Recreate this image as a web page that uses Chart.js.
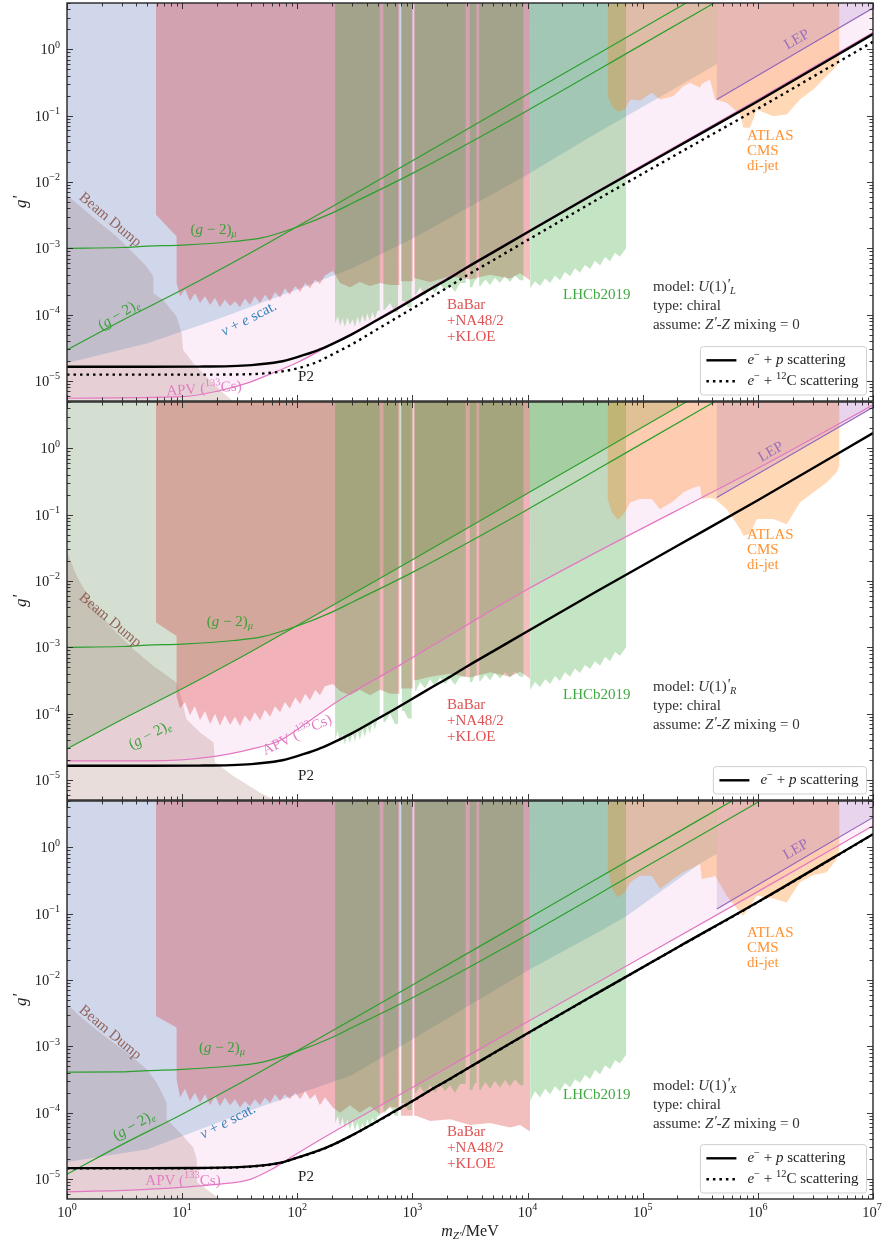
<!DOCTYPE html>
<html>
<head>
<meta charset="utf-8">
<title>Z' coupling limits</title>
<script src="https://cdn.jsdelivr.net/npm/chart.js@4.4.1/dist/chart.umd.min.js"></script>
<style>
  html, body { margin: 0; padding: 0; background: #fff; }
  #page { position: relative; width: 883px; height: 1243px; overflow: hidden; background: #fff; }
  canvas { position: absolute; left: 0; }
</style>
</head>
<body>
<div id="page">
  <canvas id="c1" width="883" height="403" style="top:0px"></canvas>
  <canvas id="c2" width="883" height="403" style="top:400px"></canvas>
  <canvas id="c3" width="883" height="444" style="top:799px"></canvas>
</div>
<script>
// ---- axes ----
const xRange = [1, 1e7];
const yRange = [5e-6, 5];
const xTickExp = [0, 1, 2, 3, 4, 5, 6, 7];
const yTickExp = [-5, -4, -3, -2, -1, 0];

// ---- shared mass grids (MeV) ----
const babarMass = [8.95, 9.6, 10.6, 11.7, 12.9, 14.3, 15.8, 17.5, 19.3, 21.3, 23.5, 26.1, 28.8, 31.8, 35.1, 38.8, 42.8, 47.5, 52.4, 58, 64, 71, 78, 86, 96, 106, 117, 129, 143, 157, 174, 204, 235, 287, 350, 427, 523, 639, 828, 1075, 1422, 2120, 3165, 4718, 7037, 8596, 10500];
const babarGaps = [[770, 795], [1005, 1035]];
const lhcbMass = [213, 225, 235, 247, 259, 272, 287, 302, 317, 333, 350, 368, 387, 406, 427, 449, 473, 497, 578, 639, 705, 850, 915, 1075, 1164, 1287, 1422, 1573, 1738, 1920, 2120, 2340, 2590, 3300, 3493, 3900, 4300, 4718, 5200, 5764, 6370, 7037, 7780, 8596, 1.06e4, 1.16e4, 1.28e4, 1.42e4, 1.57e4, 1.73e4, 1.91e4, 2.11e4, 2.34e4, 2.58e4, 2.85e4, 3.15e4, 3.49e4, 3.85e4, 4.26e4, 4.71e4, 5.2e4, 5.75e4, 6.35e4, 7.16e4];
const lhcbGaps = [[520, 560], [750, 810], [985, 1050], [2900, 3150], [3600, 3800], [9200, 10500]];
const atlasMass = [4.97e4, 5.4e4, 6.1e4, 7.0e4, 7.8e4, 9.5e4, 1.2e5, 1.41e5, 1.84e5, 2.25e5, 2.58e5, 3.15e5, 3.25e5, 3.84e5, 4.25e5, 5.37e5, 7.0e5, 7.5e5, 8.55e5, 9.8e5, 1.36e6, 1.78e6, 2.32e6, 3.03e6, 3.96e6, 4.84e6, 5.1e6];
const p2Mass = [1, 5, 14, 40, 70, 100, 150, 200, 300, 500, 700, 1000, 1500, 2000, 3000, 5000, 1e4, 4e4, 2e5, 1e6, 1e7];
const gm2eMass = [1, 3, 10, 30, 100, 1e3, 1e4, 1e5, 1e6];
const gm2muMass = [1, 3, 5, 10, 28, 50, 100, 200, 300, 1000, 1e4, 1e5, 1e6];

// ---- panel 1: U(1)'_L ----
const apvMass1 = [1, 10, 20, 36, 60, 100, 200, 300, 1000, 1e4, 1e5, 1e6, 1e7];
const apvG1 = [5.5e-6, 5.8e-6, 7.0e-6, 9.2e-6, 1.3e-5, 1.9e-5, 3.6e-5, 5.2e-5, 1.75e-4, 1.8e-3, 1.8e-2, 0.175, 1.8];
const nueMass1 = [1, 5, 20, 100, 300, 1000, 1e4, 4e4, 1.4e5, 4.4e5];
const nueG1 = [1.87e-5, 3.7e-5, 8.5e-5, 2.4e-4, 5e-4, 1.4e-3, 1.3e-2, 5.5e-2, 0.19, 0.6];
const beamDump1 = [[1, 6.4e-3], [1.3, 4.3e-3], [1.93, 2.41e-3], [2.7, 1.51e-3], [3.77, 8.5e-4], [4.93, 5.3e-4], [5.62, 3.76e-4], [5.65, 2.11e-4], [6.86, 1.67e-4], [8.95, 9.4e-5], [9.9, 5.25e-5], [10.2, 2.95e-5], [12.5, 1.85e-5], [16.3, 1.16e-5], [21.3, 7.3e-6], [27.8, 4.9e-6], [40, 2.5e-6]];
const babarStep1 = [[5.93, 3.2e-3], [8.95, 1.51e-3]];
const babarG1 = [3.0e-4, 1.9e-4, 2.4e-4, 1.6e-4, 2.1e-4, 1.5e-4, 1.9e-4, 1.4e-4, 1.8e-4, 1.3e-4, 1.7e-4, 1.35e-4, 1.6e-4, 1.3e-4, 1.75e-4, 1.4e-4, 1.9e-4, 1.5e-4, 2.0e-4, 1.6e-4, 2.2e-4, 1.8e-4, 2.5e-4, 2.0e-4, 2.7e-4, 2.2e-4, 3.0e-4, 2.5e-4, 3.4e-4, 2.9e-4, 3.9e-4, 4.6e-4, 3.0e-4, 2.6e-4, 3.1e-4, 2.7e-4, 3.0e-4, 2.8e-4, 3.2e-4, 3.5e-4, 3.1e-4, 3.8e-4, 3.4e-4, 4.0e-4, 3.5e-4, 4.2e-4, 3.3e-4];
const lhcbG1 = [7.5e-5, 9.5e-5, 6.8e-5, 8.8e-5, 6.5e-5, 9.0e-5, 7.0e-5, 8.5e-5, 6.6e-5, 9.2e-5, 7.2e-5, 1.0e-4, 7.6e-5, 1.05e-4, 8.0e-5, 1.1e-4, 8.6e-5, 1.15e-4, 1.2e-4, 1.5e-4, 1.1e-4, 1.6e-4, 1.3e-4, 2.0e-4, 2.6e-4, 1.9e-4, 2.7e-4, 2.1e-4, 2.9e-4, 2.3e-4, 2.8e-4, 2.2e-4, 3.0e-4, 2.6e-4, 3.3e-4, 2.7e-4, 3.4e-4, 2.8e-4, 3.6e-4, 3.0e-4, 3.8e-4, 3.1e-4, 3.9e-4, 3.3e-4, 2.5e-4, 3.2e-4, 2.7e-4, 3.5e-4, 3.0e-4, 3.9e-4, 3.3e-4, 4.4e-4, 3.8e-4, 5.0e-4, 4.3e-4, 5.6e-4, 4.9e-4, 6.5e-4, 5.5e-4, 7.4e-4, 6.4e-4, 8.6e-4, 7.5e-4, 1.0e-3];
const atlasG1 = [0.197, 0.139, 0.115, 0.124, 0.176, 0.17, 0.222, 0.176, 0.197, 0.279, 0.314, 0.264, 0.3, 0.352, 0.176, 0.157, 0.104, 0.0656, 0.0656, 0.124, 0.098, 0.104, 0.176, 0.249, 0.395, 0.56, 0.706];
const lep1 = [[4.4e5, 0.176], [1e7, 4.2]];
const gm2eG12 = [2.95e-5, 8.2e-5, 2.37e-4, 6.6e-4, 2.14e-3, 2.1e-2, 0.21, 2.1, 21];
const gm2muG12 = [1.0e-3, 1.03e-3, 1.08e-3, 1.12e-3, 1.27e-3, 1.45e-3, 2.1e-3, 3.4e-3, 4.8e-3, 1.35e-2, 0.12, 1.2, 12];
const p2G1 = [1.64e-5, 1.64e-5, 1.65e-5, 1.74e-5, 1.95e-5, 2.3e-5, 2.9e-5, 3.6e-5, 5.1e-5, 8.4e-5, 1.17e-4, 1.68e-4, 2.55e-4, 3.4e-4, 5.2e-4, 8.7e-4, 1.75e-3, 7.0e-3, 3.4e-2, 0.165, 1.7];
const c12G1 = [1.25e-5, 1.25e-5, 1.25e-5, 1.27e-5, 1.38e-5, 1.55e-5, 1.95e-5, 2.5e-5, 3.6e-5, 6.1e-5, 8.6e-5, 1.24e-4, 1.9e-4, 2.55e-4, 3.95e-4, 6.6e-4, 1.33e-3, 5.4e-3, 2.65e-2, 0.128, 1.3];

// ---- panel 2: U(1)'_R ----
const apvMass2 = [1, 5, 20, 39, 70, 106, 213, 287, 780, 3000, 1e4, 4.26e4, 1e6, 1e7];
const apvG2 = [1.94e-5, 1.94e-5, 2.3e-5, 2.9e-5, 3.9e-5, 6.2e-5, 1.45e-4, 2.0e-4, 5.4e-4, 2.2e-3, 7.5e-3, 2.9e-2, 0.5, 4.5];
const beamDump2 = [[1, 2.73e-2], [1.21, 1.2e-2], [1.58, 5.3e-3], [2.36, 2.1e-3], [3.77, 9.4e-4], [5.6, 5.3e-4], [8.95, 2.95e-4], [9.9, 1.66e-4], [10.9, 8.3e-5], [14.3, 5.2e-5], [18.7, 3.7e-5], [19.3, 1.84e-5], [27.8, 1.15e-5], [47.3, 6.5e-6], [62, 5.1e-6], [100, 2.5e-6]];
const babarStep2 = [[5.93, 2.38e-3], [8.95, 1.49e-3]];
const babarG2 = [1.8e-4, 1.2e-4, 1.5e-4, 9.5e-5, 1.3e-4, 8.0e-5, 1.1e-4, 7.0e-5, 1.0e-4, 6.6e-5, 9.5e-5, 6.8e-5, 9.0e-5, 6.5e-5, 9.5e-5, 7.5e-5, 1.05e-4, 8.0e-5, 1.15e-4, 9.0e-5, 1.3e-4, 1.05e-4, 1.5e-4, 1.2e-4, 1.75e-4, 1.4e-4, 2.0e-4, 1.6e-4, 2.3e-4, 1.9e-4, 2.6e-4, 2.8e-4, 2.2e-4, 1.9e-4, 2.3e-4, 1.9e-4, 2.3e-4, 2.0e-4, 2.4e-4, 3.2e-4, 3.6e-4, 4.0e-4, 3.5e-4, 4.2e-4, 3.6e-4, 4.3e-4, 3.4e-4];
const lhcbG2 = [4.0e-5, 5.5e-5, 3.6e-5, 5.0e-5, 3.4e-5, 4.8e-5, 3.6e-5, 5.2e-5, 3.8e-5, 5.5e-5, 4.0e-5, 6.0e-5, 4.4e-5, 6.5e-5, 5.0e-5, 7.5e-5, 5.8e-5, 8.5e-5, 7.5e-5, 1.0e-4, 7.0e-5, 1.1e-4, 8.5e-5, 2.2e-4, 3.0e-4, 2.4e-4, 3.3e-4, 2.6e-4, 3.5e-4, 2.8e-4, 3.4e-4, 2.7e-4, 3.6e-4, 3.0e-4, 3.8e-4, 3.1e-4, 3.9e-4, 3.2e-4, 4.1e-4, 3.4e-4, 4.2e-4, 3.5e-4, 4.3e-4, 3.6e-4, 2.3e-4, 3.0e-4, 2.5e-4, 3.3e-4, 2.8e-4, 3.7e-4, 3.1e-4, 4.2e-4, 3.6e-4, 4.8e-4, 4.1e-4, 5.4e-4, 4.7e-4, 6.2e-4, 5.3e-4, 7.2e-4, 6.2e-4, 8.5e-4, 7.5e-4, 1.0e-3];
const atlasG2 = [0.172, 0.108, 0.0838, 0.108, 0.153, 0.172, 0.172, 0.121, 0.16, 0.217, 0.243, 0.273, 0.172, 0.18, 0.172, 0.121, 0.0607, 0.048, 0.051, 0.0859, 0.0859, 0.072, 0.153, 0.217, 0.307, 0.435, 0.547];
const lep2 = [[4.4e5, 0.182], [1e7, 4.15]];
const p2G2 = [1.64e-5, 1.64e-5, 1.65e-5, 1.74e-5, 1.95e-5, 2.3e-5, 2.9e-5, 3.6e-5, 5.1e-5, 8.4e-5, 1.17e-4, 1.68e-4, 2.55e-4, 3.4e-4, 5.2e-4, 8.7e-4, 1.75e-3, 7.0e-3, 3.4e-2, 0.165, 1.7];

// ---- panel 3: U(1)'_X ----
const apvMass3 = [1, 5, 20, 39, 60, 87, 150, 287, 1000, 1e4, 4.26e4, 1e6, 1e7];
const apvG3 = [6.4e-6, 7.0e-6, 8.3e-6, 9.9e-6, 1.4e-5, 2.09e-5, 3.7e-5, 7.1e-5, 2.4e-4, 2.35e-3, 9.7e-3, 0.215, 2.12];
const nueMass3 = [1, 5, 40, 290, 1000, 1.05e4, 4.3e4, 7.3e4, 3.1e5, 4.4e5];
const nueG3 = [1.8e-5, 2.8e-5, 1.1e-4, 3.6e-4, 1.28e-3, 1.46e-2, 5.5e-2, 9.3e-2, 0.56, 0.8];
const beamDump3 = [[1, 4.3e-3], [1.39, 2.57e-3], [1.93, 1.62e-3], [3.3, 8.1e-4], [4.93, 4.53e-4], [6.0, 2.86e-4], [7.33, 1.43e-4], [7.35, 8.0e-5], [9.6, 5.0e-5], [12.5, 3.0e-5], [13.4, 2.0e-5], [13.5, 8.9e-6], [21.3, 5.0e-6], [31.8, 2.95e-6]];
const babarStep3 = [[5.93, 2.88e-3], [8.95, 1.93e-3]];
const babarG3 = [3.2e-4, 1.7e-4, 2.3e-4, 1.5e-4, 2.0e-4, 1.4e-4, 1.9e-4, 1.3e-4, 1.8e-4, 1.25e-4, 1.7e-4, 1.3e-4, 1.6e-4, 1.2e-4, 1.5e-4, 1.25e-4, 1.6e-4, 1.3e-4, 1.7e-4, 1.4e-4, 1.9e-4, 1.5e-4, 1.9e-4, 1.6e-4, 2.0e-4, 1.6e-4, 2.1e-4, 1.6e-4, 1.9e-4, 1.3e-4, 1.7e-4, 1.2e-4, 1.0e-4, 1.3e-4, 1.0e-4, 1.25e-4, 9.5e-5, 1.2e-4, 9.0e-5, 9.0e-5, 7.5e-5, 8.0e-5, 6.5e-5, 7.0e-5, 6.0e-5, 6.5e-5, 5.2e-5];
const lhcbG3 = [7.0e-5, 9.0e-5, 6.2e-5, 8.5e-5, 5.8e-5, 8.0e-5, 5.5e-5, 7.5e-5, 5.3e-5, 7.2e-5, 5.2e-5, 7.0e-5, 5.5e-5, 8.0e-5, 6.0e-5, 8.5e-5, 6.5e-5, 9.0e-5, 1.0e-4, 1.3e-4, 9.0e-5, 1.4e-4, 1.1e-4, 2.0e-4, 2.5e-4, 1.9e-4, 2.6e-4, 2.0e-4, 2.7e-4, 2.1e-4, 2.6e-4, 2.0e-4, 2.7e-4, 2.2e-4, 2.8e-4, 2.2e-4, 2.9e-4, 2.3e-4, 3.0e-4, 2.4e-4, 3.1e-4, 2.5e-4, 3.2e-4, 2.6e-4, 1.5e-4, 2.1e-4, 1.7e-4, 2.3e-4, 1.9e-4, 2.5e-4, 2.1e-4, 2.8e-4, 2.4e-4, 3.2e-4, 2.8e-4, 3.7e-4, 3.2e-4, 4.4e-4, 3.8e-4, 5.2e-4, 4.5e-4, 6.2e-4, 5.5e-4, 7.5e-4];
const atlasG3 = [0.471, 0.235, 0.176, 0.21, 0.297, 0.373, 0.373, 0.235, 0.333, 0.42, 0.471, 0.56, 0.333, 0.35, 0.373, 0.186, 0.105, 0.093, 0.13, 0.186, 0.17, 0.148, 0.297, 0.38, 0.42, 0.667, 0.94];
const lep3 = [[4.4e5, 0.118], [1e7, 2.83]];
const gm2eG3 = [1.18e-5, 3.3e-5, 9.5e-5, 2.64e-4, 8.6e-4, 8.4e-3, 8.4e-2, 0.84, 8.4];
const gm2muG3 = [4.1e-4, 4.12e-4, 4.3e-4, 4.5e-4, 5.1e-4, 5.8e-4, 8.4e-4, 1.36e-3, 1.92e-3, 5.4e-3, 4.8e-2, 0.48, 4.8];
const p2G3 = [1.46e-5, 1.46e-5, 1.47e-5, 1.55e-5, 1.75e-5, 2.1e-5, 2.65e-5, 3.25e-5, 4.6e-5, 7.5e-5, 1.05e-4, 1.5e-4, 2.3e-4, 3.05e-4, 4.65e-4, 7.8e-4, 1.58e-3, 6.3e-3, 3.1e-2, 0.15, 1.58];
const c12G3 = [1.45e-5, 1.45e-5, 1.46e-5, 1.54e-5, 1.74e-5, 2.09e-5, 2.63e-5, 3.23e-5, 4.57e-5, 7.45e-5, 1.04e-4, 1.49e-4, 2.29e-4, 3.03e-4, 4.62e-4, 7.75e-4, 1.57e-3, 6.27e-3, 3.08e-2, 0.149, 1.57];

// ---- text ----
const FONT = '"Liberation Serif", "DejaVu Serif", serif';
const C = {
  brown: 'rgba(140,86,75,0.9)', green: 'rgba(44,160,44,0.9)', blue: 'rgba(31,119,180,0.9)',
  pink: 'rgba(227,119,194,0.95)', red: 'rgba(214,39,40,0.8)', orange: 'rgba(255,127,14,0.85)',
  purple: 'rgba(148,103,189,0.9)', dark: '#222'
};
const T_GMU = [['(', ''], ['g', 'i'], [' − 2)', ''], ['μ', 'isub']];
const T_GE = [['(', ''], ['g', 'i'], [' − 2)', ''], ['e', 'isub']];
const T_NUE = [['ν', 'i'], [' + ', ''], ['e', 'i'], [' scat.', '']];
const T_APV = [['APV (', ''], ['133', 'sup'], ['Cs)', '']];
const T_BABAR = [[['BaBar', '']], [['+NA48/2', '']], [['+KLOE', '']]];
const T_ATLAS = [[['ATLAS', '']], [['CMS', '']], [['di-jet', '']]];
const T_EP = [['e', 'i'], ['−', 'sup'], [' + ', ''], ['p', 'i'], [' scattering', '']];
const T_EC = [['e', 'i'], ['−', 'sup'], [' + ', ''], ['12', 'sup'], ['C scattering', '']];
function modelText(s) {
  return [
    [['model: ', ''], ['U', 'i'], ['(1)', ''], ["'", 'pr'], [s, 'isub']],
    [['type: chiral', '']],
    [['assume: ', ''], ['Z', 'i'], ["'", 'pr'], ['-', ''], ['Z', 'i'], [' mixing = 0', '']]
  ];
}

function fontFor(st, size) {
  const small = /sup|sub/.test(st);
  const ital = st[0] === 'i' || st === 'pr';
  return (ital ? 'italic ' : '') + (small ? size * 0.7 : size).toFixed(1) + 'px ' + FONT;
}
function richWidth(ctx, parts, size) {
  let w = 0;
  for (const [s, st] of parts) { ctx.font = fontFor(st, size); w += ctx.measureText(s).width; }
  return w;
}
function drawRich(ctx, x, y, parts, size, color, align) {
  ctx.save();
  ctx.fillStyle = color; ctx.textBaseline = 'middle'; ctx.textAlign = 'left';
  let cx = x;
  const w = richWidth(ctx, parts, size);
  if (align === 'center') cx -= w / 2;
  else if (align === 'right') cx -= w;
  for (const [s, st] of parts) {
    ctx.font = fontFor(st, size);
    let dy = 0;
    if (st.includes('sup')) dy = -size * 0.36;
    if (st.includes('sub')) dy = size * 0.28;
    if (st === 'pr') dy = -size * 0.12;
    ctx.fillText(s, cx, y + dy);
    cx += ctx.measureText(s).width;
  }
  ctx.restore();
}

// ---- polygons from boundaries ----
const TOP = 100, BOT = 1e-8;
const pairs = (ms, gs) => ms.map((m, i) => [m, gs[i]]);
function withGaps(pts, gaps) {
  const out = [];
  for (let i = 0; i < pts.length; i++) {
    out.push(pts[i]);
    const next = pts[i + 1];
    if (!next) break;
    for (const [a, b] of gaps) {
      if (a >= pts[i][0] && b <= next[0]) out.push([a, pts[i][1]], [a, TOP], [b, TOP], [b, next[1]]);
    }
  }
  return out;
}
function fromTop(curve) {
  return [[curve[0][0], TOP], ...curve, [curve[curve.length - 1][0], TOP]];
}
function fromBottom(curve) {
  return [...curve, [curve[curve.length - 1][0], BOT], [curve[0][0], BOT]];
}
const xy = pts => pts.map(p => ({ x: p[0], y: p[1] }));

function region(pts, color) {
  return { data: xy(pts), showLine: true, fill: 'shape', backgroundColor: color,
           borderWidth: 0, borderColor: 'rgba(0,0,0,0)', pointRadius: 0 };
}
function curve(pts, color, width, dash) {
  return { data: xy(pts), showLine: true, fill: false, borderColor: color, borderWidth: width,
           borderDash: dash || [], borderCapStyle: 'butt', pointRadius: 0,
           cubicInterpolationMode: 'monotone' };
}

const PANELS = {
  c1: {
    apv: pairs(apvMass1, apvG1), nue: pairs(nueMass1, nueG1), g2fill: false,
    beam: beamDump1, babar: [...babarStep1, ...pairs(babarMass, babarG1)],
    lhcb: pairs(lhcbMass, lhcbG1), atlas: pairs(atlasMass, atlasG1), lep: lep1,
    gm2e: pairs(gm2eMass, gm2eG12), gm2mu: pairs(gm2muMass, gm2muG12),
    p2: pairs(p2Mass, p2G1), c12: pairs(p2Mass, c12G1),
    pad: [3, 2], xlabels: false,
    notes: [
      { fx: 0.0533, fy: 0.545, parts: [['Beam Dump', '']], color: C.brown, rot: 40 },
      { fx: 0.1818, fy: 0.570, parts: T_GMU, color: C.green },
      { fx: 0.0645, fy: 0.784, parts: T_GE, color: C.green, rot: -32 },
      { fx: 0.2258, fy: 0.794, parts: T_NUE, color: C.blue, rot: -27 },
      { fx: 0.170, fy: 0.970, parts: T_APV, color: C.pink, rot: -4 },
      { fx: 0.2965, fy: 0.940, parts: [['P2', '']], color: C.dark },
      { fx: 0.4715, fy: 0.759, lines: T_BABAR, color: C.red, align: 'left', dy: 16.2 },
      { fx: 0.6154, fy: 0.733, parts: [['LHCb2019', '']], color: C.green, align: 'left' },
      { fx: 0.8437, fy: 0.334, lines: T_ATLAS, color: C.orange, align: 'left', dy: 15 },
      { fx: 0.9057, fy: 0.0923, parts: [['LEP', '']], color: C.purple, rot: -30 },
      { fx: 0.727, fy: 0.713, lines: modelText('L'), color: '#333', align: 'left', dy: 19.2 }
    ],
    legend: [{ parts: T_EP, dash: [] }, { parts: T_EC, dash: [2.5, 4] }]
  },
  c2: {
    apv: pairs(apvMass2, apvG2), nue: null, g2fill: true,
    beam: beamDump2, babar: [...babarStep2, ...pairs(babarMass, babarG2)],
    lhcb: pairs(lhcbMass, lhcbG2), atlas: pairs(atlasMass, atlasG2), lep: lep2,
    gm2e: pairs(gm2eMass, gm2eG12), gm2mu: pairs(gm2muMass, gm2muG12),
    p2: pairs(p2Mass, p2G2), c12: null,
    pad: [2, 3], xlabels: false,
    notes: [
      { fx: 0.0533, fy: 0.548, parts: [['Beam Dump', '']], color: C.brown, rot: 40 },
      { fx: 0.2022, fy: 0.553, parts: T_GMU, color: C.green },
      { fx: 0.103, fy: 0.837, parts: T_GE, color: C.green, rot: -28 },
      { fx: 0.2854, fy: 0.837, parts: T_APV, color: C.pink, rot: -26 },
      { fx: 0.2965, fy: 0.941, parts: [['P2', '']], color: C.dark },
      { fx: 0.4715, fy: 0.761, lines: T_BABAR, color: C.red, align: 'left', dy: 16.2 },
      { fx: 0.6154, fy: 0.736, parts: [['LHCb2019', '']], color: C.green, align: 'left' },
      { fx: 0.8437, fy: 0.334, lines: T_ATLAS, color: C.orange, align: 'left', dy: 15 },
      { fx: 0.8734, fy: 0.1256, parts: [['LEP', '']], color: C.purple, rot: -30 },
      { fx: 0.727, fy: 0.715, lines: modelText('R'), color: '#333', align: 'left', dy: 19.2 }
    ],
    legend: [{ parts: T_EP, dash: [] }]
  },
  c3: {
    apv: pairs(apvMass3, apvG3), nue: pairs(nueMass3, nueG3), g2fill: false,
    beam: beamDump3, babar: [...babarStep3, ...pairs(babarMass, babarG3)],
    lhcb: pairs(lhcbMass, lhcbG3), atlas: pairs(atlasMass, atlasG3), lep: lep3,
    gm2e: pairs(gm2eMass, gm2eG3), gm2mu: pairs(gm2muMass, gm2muG3),
    p2: pairs(p2Mass, p2G3), c12: pairs(p2Mass, c12G3),
    pad: [2, 44], xlabels: true,
    notes: [
      { fx: 0.0533, fy: 0.582, parts: [['Beam Dump', '']], color: C.brown, rot: 40 },
      { fx: 0.1923, fy: 0.620, parts: T_GMU, color: C.green },
      { fx: 0.0831, fy: 0.816, parts: T_GE, color: C.green, rot: -30 },
      { fx: 0.1998, fy: 0.806, parts: T_NUE, color: C.blue, rot: -27 },
      { fx: 0.1439, fy: 0.955, parts: T_APV, color: C.pink, rot: 0 },
      { fx: 0.2965, fy: 0.944, parts: [['P2', '']], color: C.dark },
      { fx: 0.4715, fy: 0.831, lines: T_BABAR, color: C.red, align: 'left', dy: 16.2 },
      { fx: 0.6154, fy: 0.738, parts: [['LHCb2019', '']], color: C.green, align: 'left' },
      { fx: 0.8437, fy: 0.333, lines: T_ATLAS, color: C.orange, align: 'left', dy: 15 },
      { fx: 0.9045, fy: 0.122, parts: [['LEP', '']], color: C.purple, rot: -30 },
      { fx: 0.727, fy: 0.715, lines: modelText('X'), color: '#333', align: 'left', dy: 19.2 }
    ],
    legend: [{ parts: T_EP, dash: [] }, { parts: T_EC, dash: [2.5, 4] }]
  }
};

function buildDatasets(p) {
  const list = [];
  list.push(region(fromTop(p.apv), 'rgba(227,119,194,0.12)'));
  if (p.nue) list.push(region(fromTop(p.nue), 'rgba(31,119,180,0.2)'));
  if (p.g2fill) list.push(region(fromTop(p.gm2e), 'rgba(44,160,44,0.19)'));
  list.push(region(fromBottom(p.beam), 'rgba(140,86,75,0.2)'));
  list.push(region(fromTop(withGaps(p.babar, babarGaps)), 'rgba(214,39,40,0.3)'));
  list.push(region(fromTop(withGaps(p.lhcb, lhcbGaps)), 'rgba(44,160,44,0.28)'));
  list.push(region(fromTop(p.atlas), 'rgba(255,127,14,0.3)'));
  list.push(region(fromTop(p.lep), 'rgba(148,103,189,0.2)'));
  list.push(curve(p.gm2mu, '#2ca02c', 1.2));
  list.push(curve(p.gm2e, '#2ca02c', 1.2));
  list.push(curve(p.apv, '#e377c2', 1.2));
  list.push(curve(p.lep, '#9467bd', 1.2));
  if (p.c12) list.push(curve(p.c12, '#000', 2.4, [2.5, 4]));
  list.push(curve(p.p2, '#000', 2.4));
  // first entry is drawn first (bottom)
  list.forEach((d, i) => { d.order = list.length - i; });
  return list;
}

// ---- frame, ticks, labels, annotations, legend ----
function seg(ctx, x1, y1, x2, y2) { ctx.beginPath(); ctx.moveTo(x1, y1); ctx.lineTo(x2, y2); ctx.stroke(); }

function drawAxes(ctx, chart, p) {
  const a = chart.chartArea, xs = chart.scales.x, ys = chart.scales.y;
  ctx.save();
  ctx.strokeStyle = '#222'; ctx.lineWidth = 0.9;
  for (const k of xTickExp) {
    for (let j = 1; j <= 9; j++) {
      const v = j * Math.pow(10, k);
      if (v > xRange[1]) break;
      const px = Math.round(xs.getPixelForValue(v)) + 0.5;
      const L = j === 1 ? 6 : 3.5;
      seg(ctx, px, a.bottom, px, a.bottom - L);
      seg(ctx, px, a.top, px, a.top + L);
    }
  }
  for (let k = yTickExp[0] - 1; k <= yTickExp[yTickExp.length - 1]; k++) {
    for (let j = 1; j <= 9; j++) {
      const v = j * Math.pow(10, k);
      if (v < yRange[0] || v > yRange[1]) continue;
      const py = Math.round(ys.getPixelForValue(v)) + 0.5;
      const L = j === 1 ? 6 : 3.5;
      seg(ctx, a.left, py, a.left + L, py);
      seg(ctx, a.right, py, a.right - L, py);
    }
  }
  ctx.strokeStyle = '#262626'; ctx.lineWidth = 1.4;
  ctx.strokeRect(a.left, a.top, a.right - a.left, a.bottom - a.top);
  ctx.restore();

  for (const e of yTickExp) {
    const py = ys.getPixelForValue(Math.pow(10, e));
    const ex = e < 0 ? '−' + Math.abs(e) : String(e);
    drawRich(ctx, a.left - 7, py + 1, [['10', ''], [ex, 'sup']], 14.5, '#222', 'right');
  }
  if (p.xlabels) {
    for (const e of xTickExp) {
      const px = xs.getPixelForValue(Math.pow(10, e));
      drawRich(ctx, Math.min(px, 872), a.bottom + 14, [['10', ''], [String(e), 'sup']], 14.5, '#222', 'center');
    }
    drawRich(ctx, (a.left + a.right) / 2, a.bottom + 33,
      [['m', 'i'], ["Z'", 'isub'], ['/MeV', '']], 16, '#222', 'center');
  }
  ctx.save();
  ctx.translate(22, (a.top + a.bottom) / 2);
  ctx.rotate(-Math.PI / 2);
  drawRich(ctx, 0, 0, [['g', 'i'], ["'", 'pr']], 17, '#222', 'center');
  ctx.restore();
}

function drawNotes(ctx, chart, p) {
  const a = chart.chartArea;
  for (const n of p.notes) {
    const x = a.left + n.fx * (a.right - a.left);
    const y = a.top + n.fy * (a.bottom - a.top);
    ctx.save();
    ctx.translate(x, y);
    if (n.rot) ctx.rotate(n.rot * Math.PI / 180);
    const lines = n.lines || [n.parts];
    lines.forEach((parts, i) => drawRich(ctx, 0, i * (n.dy || 16), parts, 15, n.color, n.align || 'center'));
    ctx.restore();
  }
}

function drawLegend(ctx, chart, items) {
  const a = chart.chartArea;
  const size = 15, rowH = 21, pad = 6, sample = 30, gap = 11;
  let tw = 0;
  items.forEach(it => { tw = Math.max(tw, richWidth(ctx, it.parts, size)); });
  const w = pad + sample + gap + tw + 8, h = items.length * rowH + 6.4;
  const x0 = a.right - 6.5 - w, y0 = a.bottom - 6 - h;
  ctx.save();
  ctx.beginPath();
  ctx.roundRect(x0, y0, w, h, 3);
  ctx.fillStyle = 'rgba(255,255,255,0.85)'; ctx.fill();
  ctx.strokeStyle = '#cfcfcf'; ctx.lineWidth = 1; ctx.stroke();
  items.forEach((it, i) => {
    const yy = y0 + 3.2 + rowH * (i + 0.5);
    ctx.setLineDash(it.dash); ctx.lineWidth = 2.4; ctx.strokeStyle = '#000'; ctx.lineCap = 'butt';
    seg(ctx, x0 + pad, yy, x0 + pad + sample, yy);
    ctx.setLineDash([]);
    drawRich(ctx, x0 + pad + sample + gap, yy, it.parts, size, '#222', 'left');
  });
  ctx.restore();
}

const decoPlugin = {
  id: 'deco',
  afterDraw(chart) {
    const p = PANELS[chart.canvas.id];
    const ctx = chart.ctx;
    drawNotes(ctx, chart, p);
    drawLegend(ctx, chart, p.legend);
    drawAxes(ctx, chart, p);
  }
};

for (const id of Object.keys(PANELS)) {
  const p = PANELS[id];
  new Chart(document.getElementById(id), {
    type: 'scatter',
    data: { datasets: buildDatasets(p) },
    options: {
      responsive: false, animation: false, devicePixelRatio: 1, events: [],
      layout: { padding: { left: 67, right: 10, top: p.pad[0], bottom: p.pad[1] } },
      scales: {
        x: { type: 'logarithmic', min: xRange[0], max: xRange[1], display: false },
        y: { type: 'logarithmic', min: yRange[0], max: yRange[1], display: false }
      },
      plugins: { legend: { display: false }, tooltip: { enabled: false } }
    },
    plugins: [decoPlugin]
  });
}
</script>
</body>
</html>
